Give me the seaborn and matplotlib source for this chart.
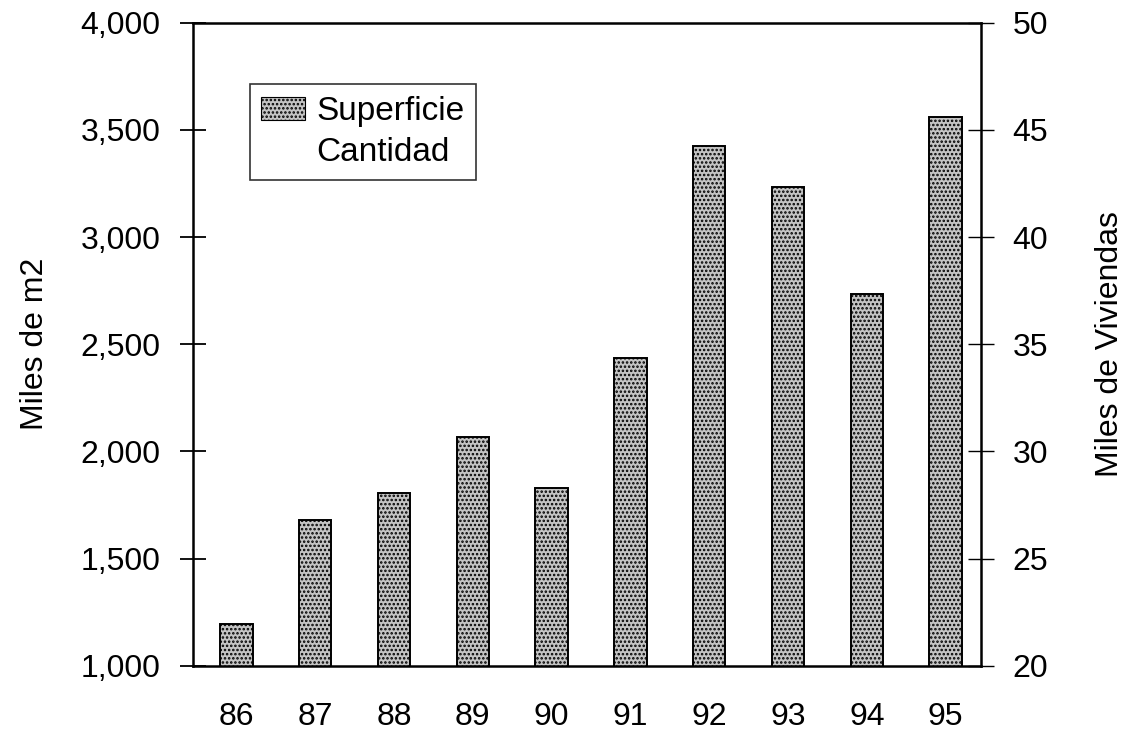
import matplotlib
matplotlib.use("Agg")
import matplotlib.pyplot as plt
import numpy as np
import pandas as pd
import seaborn as sns
from matplotlib.lines import Line2D
from matplotlib.patches import Patch
from matplotlib.ticker import FuncFormatter, MultipleLocator

# data
years = ["86", "87", "88", "89", "90", "91", "92", "93", "94", "95"]
superficie = [1196, 1682, 1805, 2065, 1827, 2435, 3425, 3234, 2734, 3561]

sns.set_style("white")
plt.rcParams["font.family"] = ["Liberation Sans", "DejaVu Sans"]
plt.rcParams["hatch.linewidth"] = 1.2
plt.rcParams["hatch.color"] = "#303030"
plt.rcParams["text.color"] = "black"
plt.rcParams["axes.labelcolor"] = "black"
plt.rcParams["xtick.color"] = "black"
plt.rcParams["ytick.color"] = "black"

FONTSIZE = 23
BAR_FACE = "#c4c4c4"
HATCH = "...."

df = pd.DataFrame({"year": years, "superficie": superficie})

fig = plt.figure(figsize=(11.29, 7.30), dpi=100)
ax = fig.add_axes([0.171, 0.088, 0.698, 0.881])

sns.barplot(data=df, x="year", y="superficie", ax=ax, color=BAR_FACE,
            width=0.41, saturation=1, edgecolor="black", linewidth=1.4,
            hatch=HATCH)

ax.set_ylim(1000, 4000)
ax.set_xlim(-0.55, 9.45)
ax.yaxis.set_major_locator(MultipleLocator(500))
ax.yaxis.set_major_formatter(FuncFormatter(lambda v, p: f"{int(v):,}"))
ax.set_xticks(np.arange(len(years)))
ax.set_xticklabels(years)
ax.tick_params(axis="x", length=0, labelsize=FONTSIZE, pad=26)
# category boundary ticks on the bottom axis
ax.set_xticks(np.arange(len(years) - 1) + 0.5, minor=True)
ax.tick_params(axis="x", which="minor", direction="inout", length=18, width=1.6)
ax.tick_params(axis="y", direction="inout", length=19, width=1.3, labelsize=FONTSIZE, pad=14,
               left=True)
ax.set_ylabel("Miles de m2", fontsize=FONTSIZE, labelpad=22)
ax.set_xlabel("")
for s in ax.spines.values():
    s.set_visible(True)
    s.set_color("black")
    s.set_linewidth(1.8)

# secondary axis (Cantidad)
ax2 = ax.twinx()
ax2.set_ylim(20, 50)
ax2.yaxis.set_major_locator(MultipleLocator(5))
ax2.tick_params(axis="y", direction="inout", length=19, width=1.0, labelsize=FONTSIZE, pad=13,
                right=True)
ax2.set_ylabel("Miles de Viviendas", fontsize=FONTSIZE, labelpad=34)
for s in ax2.spines.values():
    s.set_visible(False)
for t in ax2.yaxis.get_ticklines():
    t.set_linestyle((0, (3, 2)))

handles = [Patch(facecolor=BAR_FACE, edgecolor="black", hatch=HATCH, linewidth=0.8),
           Line2D([], [], color="none")]
leg = ax.legend(handles, ["Superficie", "Cantidad"], loc="upper left",
                bbox_to_anchor=(0.072, 0.904), borderaxespad=0, fontsize=24,
                frameon=True, fancybox=False, edgecolor="black", handlelength=1.3,
                handleheight=0.7, handletextpad=0.35, borderpad=0.35, labelspacing=0.3)
leg.get_frame().set_linewidth(1.2)

fig.savefig("out.png", dpi=100)
